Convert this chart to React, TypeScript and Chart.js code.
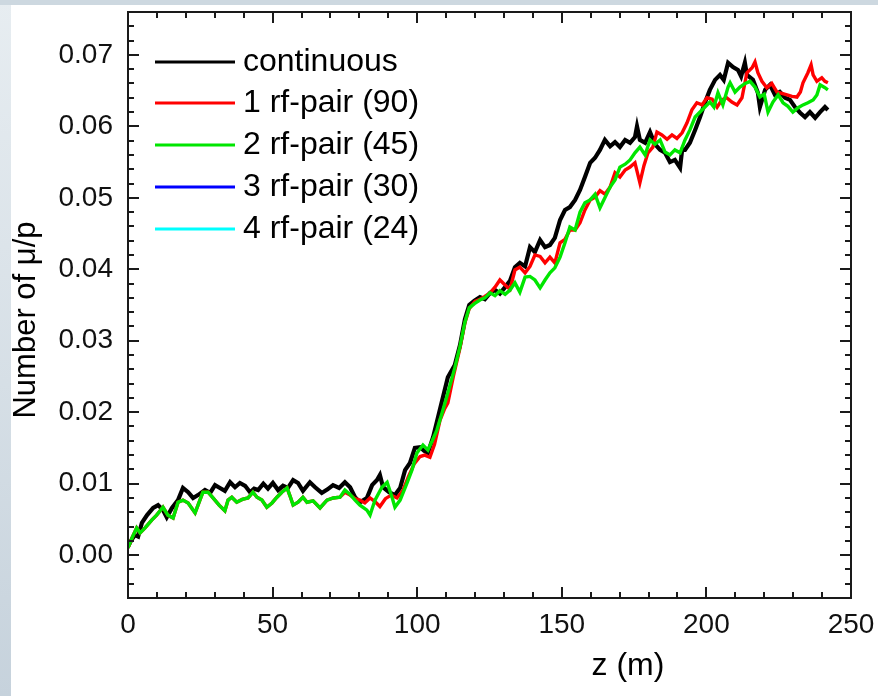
import React, { useEffect, useRef } from "react";
import { Chart, registerables } from "chart.js";
Chart.register(...registerables);

const FONT = "'Liberation Sans', Arial, sans-serif";

const xTicks = [0, 50, 100, 150, 200, 250];
const yTicks = [0, 0.01, 0.02, 0.03, 0.04, 0.05, 0.06, 0.07];
const xTitle = "z (m)";
const yTitle = "Number of \u03bc/p";
const legendLabels = ["continuous", "1 rf-pair (90)", "2 rf-pair (45)", "3 rf-pair (30)", "4 rf-pair (24)"];
const seriesColors = ["#000000", "#ff0000", "#00e600", "#0000ff", "#00ffff"];

const blackZ = [0, 1, 2.4, 3.5, 4.8, 6.6, 8.7, 10.4, 12.1, 13.4, 15.2, 17.3, 19, 20.8, 22.5, 24.2, 26.6, 28.4, 30.1, 31.8, 33.5, 35.3, 37, 38.7, 40.5, 42.2, 43.6, 45, 46.8, 48.4, 50.1, 51.9, 53.6, 55.3, 57.1, 58.8, 60.5, 62.9, 64.7, 67, 69, 70.9, 73, 75, 76.8, 78.5, 80.2, 82.6, 84.4, 86.1, 87.1, 88.2, 90.3, 92.3, 94.1, 95.8, 97.5, 99.2, 101, 102.4, 103.7, 105.5, 107.2, 108.9, 110.6, 113, 114.8, 116.5, 118, 119.8, 121.7, 123.4, 125.2, 126.9, 128.6, 130.4, 132.1, 133.8, 135.5, 137.3, 139, 140.7, 142.5, 144.2, 145.9, 147.6, 149.4, 151.1, 152.8, 154.6, 156.3, 158, 159.8, 161.5, 163.2, 164.9, 166.7, 168.4, 170.1, 171.9, 173.6, 175.3, 176, 177, 178.8, 180.5, 182.2, 184, 185.7, 187.4, 189.1, 190.9, 191.6, 192.6, 194.3, 196.1, 197.8, 199.5, 201.2, 203, 204.7, 206, 207.5, 209.2, 210.9, 212, 213.3, 214, 216.1, 217.8, 218.5, 220.3, 222, 223.7, 225.4, 227.2, 228.9, 230.6, 232.4, 234.1, 235.8, 237.6, 239.3, 241, 242];
const blackV = [0.0012, 0.002, 0.0028, 0.0026, 0.0045, 0.0056, 0.0066, 0.007, 0.0063, 0.0053, 0.0066, 0.0077, 0.0094, 0.0088, 0.008, 0.0084, 0.0091, 0.0087, 0.0098, 0.0094, 0.009, 0.0102, 0.0095, 0.0101, 0.0097, 0.0088, 0.0093, 0.0091, 0.01, 0.0093, 0.0101, 0.0091, 0.0097, 0.0094, 0.0105, 0.0101, 0.009, 0.0102, 0.0095, 0.0087, 0.0092, 0.0098, 0.0094, 0.0102, 0.0095, 0.0081, 0.0074, 0.008, 0.0098, 0.0105, 0.0112, 0.0095, 0.0088, 0.0084, 0.0094, 0.0119, 0.0129, 0.015, 0.0151, 0.0146, 0.0143, 0.0165, 0.0193, 0.0221, 0.0249, 0.0266, 0.0294, 0.033, 0.035, 0.0356, 0.0361, 0.0358, 0.0367, 0.0371, 0.0366, 0.0375, 0.0384, 0.0403, 0.0409, 0.0404, 0.0431, 0.0424, 0.0441, 0.0431, 0.0434, 0.0444, 0.0469, 0.0483, 0.0487, 0.0497, 0.0511, 0.0529, 0.0549, 0.0556, 0.0567, 0.0581, 0.0572, 0.0578, 0.0571, 0.0581, 0.0577, 0.0585, 0.06, 0.0581, 0.0577, 0.0592, 0.0575, 0.0567, 0.0563, 0.055, 0.0553, 0.0542, 0.0567, 0.0567, 0.0577, 0.0595, 0.0613, 0.0633, 0.0651, 0.0665, 0.0672, 0.0665, 0.0689, 0.0683, 0.0679, 0.067, 0.0689, 0.0672, 0.0665, 0.0647, 0.0627, 0.0651, 0.0658, 0.0644, 0.0648, 0.064, 0.0637, 0.0627, 0.0619, 0.0613, 0.062, 0.0612, 0.062, 0.0627, 0.0623];

const redZ = [0, 1.5, 3, 4.2, 5.9, 8.2, 9.9, 12.1, 13.8, 15.6, 17.3, 19, 20.8, 23.2, 25.9, 27.7, 29.4, 31.5, 33.5, 34.6, 35.9, 37.6, 39.5, 41.5, 43.2, 44.6, 46.3, 48, 49.8, 51.5, 53.2, 55, 56, 57.1, 58.8, 60.5, 61.9, 64, 66.4, 68.8, 71, 73.3, 75, 76.8, 78.5, 80.2, 81.9, 83.7, 85.4, 87.1, 89, 91, 93, 95, 97, 99, 101, 102.6, 104.4, 106, 107.9, 109.5, 110.6, 112.5, 114.8, 116.5, 118, 120, 121.7, 123.4, 125.2, 126.9, 128.6, 130.4, 132.1, 133.8, 135.5, 137.3, 139, 140.7, 142.5, 144.2, 145.9, 147.6, 149.4, 151.1, 152.8, 154.6, 156.3, 158, 159.8, 161.5, 163.2, 164.9, 166.7, 168.4, 170.1, 171.9, 173.6, 175.3, 177, 178.4, 179.8, 181.5, 182.9, 184.6, 186.4, 188.1, 189.8, 191.6, 193.3, 195, 196.7, 198.5, 200.2, 202, 203.7, 205.4, 207, 208.8, 210.6, 212.3, 214, 215.8, 216.8, 217.8, 219.2, 220.9, 222.6, 224.4, 226.1, 227.9, 229.6, 231.3, 232.5, 233.4, 235.1, 236.2, 236.9, 238.2, 239.9, 241, 242];
const redV = [0.001, 0.0025, 0.0038, 0.0031, 0.0038, 0.0049, 0.0056, 0.0067, 0.0056, 0.0052, 0.0074, 0.0077, 0.0073, 0.0059, 0.0088, 0.0088, 0.008, 0.007, 0.0062, 0.0077, 0.0081, 0.0074, 0.0078, 0.008, 0.0088, 0.0081, 0.0077, 0.0067, 0.0073, 0.0081, 0.0088, 0.0094, 0.0083, 0.007, 0.0074, 0.0081, 0.0074, 0.0076, 0.0066, 0.0077, 0.008, 0.0081, 0.0088, 0.0084, 0.0079, 0.0077, 0.0073, 0.008, 0.0075, 0.0068, 0.0079, 0.0084, 0.008, 0.009, 0.011, 0.0128, 0.0138, 0.014, 0.0137, 0.0155, 0.0189, 0.0205, 0.0213, 0.025, 0.029, 0.0325, 0.0345, 0.0355, 0.0358, 0.0362, 0.0367, 0.0375, 0.0385, 0.0378, 0.0372, 0.0399, 0.0403, 0.0395, 0.0404, 0.042, 0.0418, 0.0409, 0.0417, 0.0409, 0.0437, 0.0442, 0.0455, 0.0455, 0.0465, 0.0483, 0.0497, 0.0501, 0.051, 0.0505, 0.0515, 0.0535, 0.0529, 0.0539, 0.0543, 0.0549, 0.0521, 0.0545, 0.0563, 0.0571, 0.0592, 0.0588, 0.0582, 0.0588, 0.0583, 0.0591, 0.0605, 0.0623, 0.0633, 0.063, 0.064, 0.0638, 0.0627, 0.0637, 0.064, 0.0634, 0.063, 0.064, 0.0675, 0.0682, 0.069, 0.0675, 0.0663, 0.0654, 0.066, 0.0648, 0.0646, 0.0644, 0.0642, 0.0641, 0.0648, 0.0661, 0.0675, 0.0686, 0.0672, 0.0663, 0.0668, 0.0663, 0.0661];

const greenZ = [0, 1.5, 3, 4.2, 5.9, 8.2, 9.9, 12.1, 13.8, 15.6, 17.3, 19, 20.8, 23.2, 25.9, 27.7, 29.4, 31.5, 33.5, 34.6, 35.9, 37.6, 39.5, 41.5, 43.2, 44.6, 46.3, 48, 49.8, 51.5, 53.2, 55, 56, 57.1, 58.8, 60.5, 61.9, 64, 66.4, 68.8, 71, 73.3, 75, 76.8, 78.5, 80.2, 82.6, 83.7, 85.4, 87.8, 89.6, 91.3, 92.3, 94.1, 96.5, 98.2, 99.9, 102, 103.7, 105.2, 106.8, 108.6, 110.6, 113, 114.8, 116.5, 118, 119.8, 121.7, 123.4, 125.2, 126.9, 128.6, 130.4, 132.1, 133.8, 135.5, 137.3, 139, 140.7, 142.5, 144.2, 145.9, 147.6, 149.4, 151.1, 152.8, 154.6, 156.3, 158, 159.8, 161.5, 163.2, 164.9, 166.7, 168.4, 170.1, 171.9, 173.6, 175.3, 177, 178.8, 180.5, 182.2, 184, 185.7, 187.4, 189.1, 190.9, 192.6, 194.3, 196.1, 197.8, 199.5, 201.2, 202.6, 204, 205.7, 207.5, 208.2, 209.9, 211.6, 213.4, 215.1, 216.8, 218.5, 220, 221.3, 223, 224.8, 226.5, 228.2, 229.9, 231.7, 233.4, 235.1, 236.9, 238.2, 239.3, 241, 242];
const greenV = [0.001, 0.0025, 0.0038, 0.0031, 0.0038, 0.0049, 0.0056, 0.0067, 0.0056, 0.0052, 0.0074, 0.0077, 0.0073, 0.0059, 0.0088, 0.0088, 0.008, 0.007, 0.0062, 0.0077, 0.0081, 0.0074, 0.0078, 0.008, 0.0088, 0.0081, 0.0077, 0.0067, 0.0073, 0.0081, 0.0088, 0.0094, 0.0083, 0.007, 0.0074, 0.0081, 0.0074, 0.0076, 0.0066, 0.0077, 0.008, 0.0081, 0.0091, 0.0085, 0.0077, 0.007, 0.0063, 0.0056, 0.0077, 0.0095, 0.0102, 0.0081, 0.0067, 0.0077, 0.0101, 0.0119, 0.0143, 0.0154, 0.0147, 0.016, 0.0175, 0.0199, 0.0227, 0.0262, 0.0292, 0.0326, 0.0346, 0.0352, 0.0357, 0.036, 0.0367, 0.0363, 0.037, 0.0365, 0.0371, 0.0381, 0.0368, 0.0389, 0.039, 0.0385, 0.0374, 0.0385, 0.0395, 0.0402, 0.0417, 0.0437, 0.0459, 0.0455, 0.048, 0.0493, 0.0497, 0.0505, 0.0486, 0.05, 0.0515, 0.0525, 0.0543, 0.0547, 0.0553, 0.0563, 0.0571, 0.056, 0.0581, 0.0575, 0.0581, 0.0564, 0.056, 0.0567, 0.0563, 0.0581, 0.0595, 0.0613, 0.062, 0.0627, 0.0634, 0.0627, 0.0647, 0.063, 0.0655, 0.0661, 0.0648, 0.0655, 0.066, 0.0663, 0.0655, 0.0641, 0.0645, 0.062, 0.0634, 0.0644, 0.0633, 0.0628, 0.062, 0.0626, 0.063, 0.0633, 0.0637, 0.0644, 0.0658, 0.0654, 0.0651];

// series 3 and 4 lie hidden beneath series 2 in the picture
const blueZ: number[] = [];
const blueV: number[] = [];
const cyanZ: number[] = [];
const cyanV: number[] = [];

const pts = (zs: number[], vs: number[]) => zs.map((z, i) => ({ x: z, y: vs[i] }));

const decor = {
  id: "decor",
  afterDraw(chart: any) {
    const { ctx, chartArea: a, scales } = chart;
    const xs = scales.x;
    const ys = scales.y;
    ctx.save();
    ctx.strokeStyle = "#1a1a1a";
    ctx.lineWidth = 2;
    ctx.strokeRect(a.left, a.top, a.right - a.left, a.bottom - a.top);
    ctx.beginPath();
    for (let v = 0; v <= 250; v += 10) {
      const px = Math.round(xs.getPixelForValue(v));
      const len = v % 50 === 0 ? 11 : 6;
      ctx.moveTo(px, a.bottom);
      ctx.lineTo(px, a.bottom - len);
      ctx.moveTo(px, a.top);
      ctx.lineTo(px, a.top + len);
    }
    for (let k = -3; k <= 38; k++) {
      const v = k * 0.002;
      const py = Math.round(ys.getPixelForValue(v));
      const len = k % 5 === 0 ? 11 : 6;
      ctx.moveTo(a.left, py);
      ctx.lineTo(a.left + len, py);
      ctx.moveTo(a.right, py);
      ctx.lineTo(a.right - len, py);
    }
    ctx.stroke();

    // legend
    const rowY = [62, 103, 145, 187, 229];
    ctx.font = `32px ${FONT}`;
    ctx.textAlign = "left";
    ctx.textBaseline = "alphabetic";
    legendLabels.forEach((lab, i) => {
      ctx.strokeStyle = seriesColors[i];
      ctx.lineWidth = 3;
      ctx.beginPath();
      ctx.moveTo(155, rowY[i]);
      ctx.lineTo(235, rowY[i]);
      ctx.stroke();
      ctx.fillStyle = "#000";
      ctx.fillText(lab, 243, rowY[i] + 9);
    });

    // axis titles
    ctx.fillStyle = "#000";
    ctx.font = `32px ${FONT}`;
    ctx.textAlign = "center";
    ctx.textBaseline = "middle";
    ctx.fillText(xTitle, 628, 666);
    ctx.font = `31px ${FONT}`;
    ctx.translate(26, 320);
    ctx.rotate(-Math.PI / 2);
    ctx.fillText(yTitle, 0, 0);
    ctx.restore();
  },
};

export default function App() {
  const ref = useRef<HTMLCanvasElement>(null);
  useEffect(() => {
    if (!ref.current) return;
    const mk = (zs: number[], vs: number[], color: string, order: number, width: number) => ({
      data: pts(zs, vs),
      borderColor: color,
      backgroundColor: color,
      borderWidth: width,
      pointRadius: 0,
      tension: 0,
      fill: false,
      order,
    });
    const chart = new Chart(ref.current, {
      type: "line",
      data: {
        datasets: [
          mk(blackZ, blackV, seriesColors[0], 4, 4.2),
          mk(redZ, redV, seriesColors[1], 3, 3.4),
          mk(greenZ, greenV, seriesColors[2], 0, 3.4),
          mk(blueZ, blueV, seriesColors[3], 2, 3),
          mk(cyanZ, cyanV, seriesColors[4], 1, 3),
        ],
      },
      options: {
        responsive: false,
        animation: false,
        devicePixelRatio: 1,
        layout: { padding: { top: 12, right: 27, left: 0, bottom: 0 } },
        plugins: { legend: { display: false }, tooltip: { enabled: false } },
        scales: {
          x: {
            type: "linear",
            min: 0,
            max: 250,
            grid: { display: false, drawTicks: false },
            border: { display: false },
            afterBuildTicks: (s: any) => {
              s.ticks = xTicks.map((v) => ({ value: v }));
            },
            afterFit: (s: any) => {
              s.height = 98;
              s.paddingLeft = 0;
              s.paddingRight = 0;
            },
            ticks: {
              color: "#111",
              font: { family: FONT, size: 28 },
              padding: 10,
              maxRotation: 0,
              autoSkip: false,
            },
          },
          y: {
            type: "linear",
            min: -0.006,
            max: 0.076,
            grid: { display: false, drawTicks: false },
            border: { display: false },
            afterBuildTicks: (s: any) => {
              s.ticks = yTicks.map((v) => ({ value: v }));
            },
            afterFit: (s: any) => {
              s.width = 128;
              s.paddingTop = 0;
              s.paddingBottom = 0;
            },
            ticks: {
              color: "#111",
              font: { family: FONT, size: 28 },
              padding: 15,
              callback: (v: any) => Number(v).toFixed(2),
            },
          },
        },
      },
      plugins: [decor],
    });
    return () => chart.destroy();
  }, []);

  return (
    <div
      style={{
        position: "fixed",
        left: 0,
        top: 0,
        width: 878,
        height: 696,
        background: "linear-gradient(to bottom, #e7edf1 0%, #d6dfe6 55%, #c6d2dc 100%)",
        overflow: "hidden",
      }}
    >
      <div style={{ position: "absolute", left: 0, top: 0, width: 878, height: 5, background: "#cdd8e0" }} />
      <div style={{ position: "absolute", left: 11, top: 5, right: 0, bottom: 0, background: "#ffffff" }} />
      <canvas ref={ref} width={878} height={696} style={{ position: "absolute", left: 0, top: 0 }} />
    </div>
  );
}
